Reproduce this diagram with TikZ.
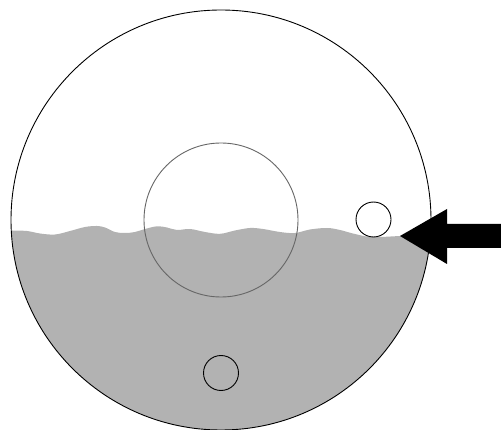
\documentclass[tikz,border=0pt]{standalone}
\begin{document}
\begin{tikzpicture}[x=1pt,y=-1pt,
  outline/.style={draw=black,line width=0.9pt,fill=none},
  inner ring/.style={draw=black!60,line width=0.9pt,fill=none},
  ball/.style={circle,draw=black,line width=0.9pt,minimum size=35pt,inner sep=0pt}]
\useasboundingbox (0,0) rectangle (501,430);
\begin{scope}
  \clip (221,220) circle[radius=210];
  \fill[black!30] (0,431) -- (0,230.5) -- plot[smooth,tension=0.6] coordinates {(12,230.5) (27,231) (40,233.5) (55,234.5) (70,231) (85,227) (97,226) (105,227.5) (115,232) (125,233) (135,232) (145,229) (157,226.3) (167,227.5) (177,230) (190,229) (205,232) (220,233.8) (235,230.5) (250,228) (263,229) (280,232) (295,233) (310,229.5) (327,228) (340,230) (355,234) (372,237) (400,236) (435,234)} -- (440,431) -- cycle;
\end{scope}
\draw[outline] (221,220) circle[radius=210];
\draw[inner ring] (221,220) circle[radius=77];
\node[ball,fill=white] (top) at (373.5,219.5) {};
\node[ball] (bottom) at (221,373) {};
\fill[black] (400,236) -- (447,209) -- (447,224) -- (501,224) -- (501,248) -- (447,248) -- (447,264) -- cycle;
\end{tikzpicture}
\end{document}
